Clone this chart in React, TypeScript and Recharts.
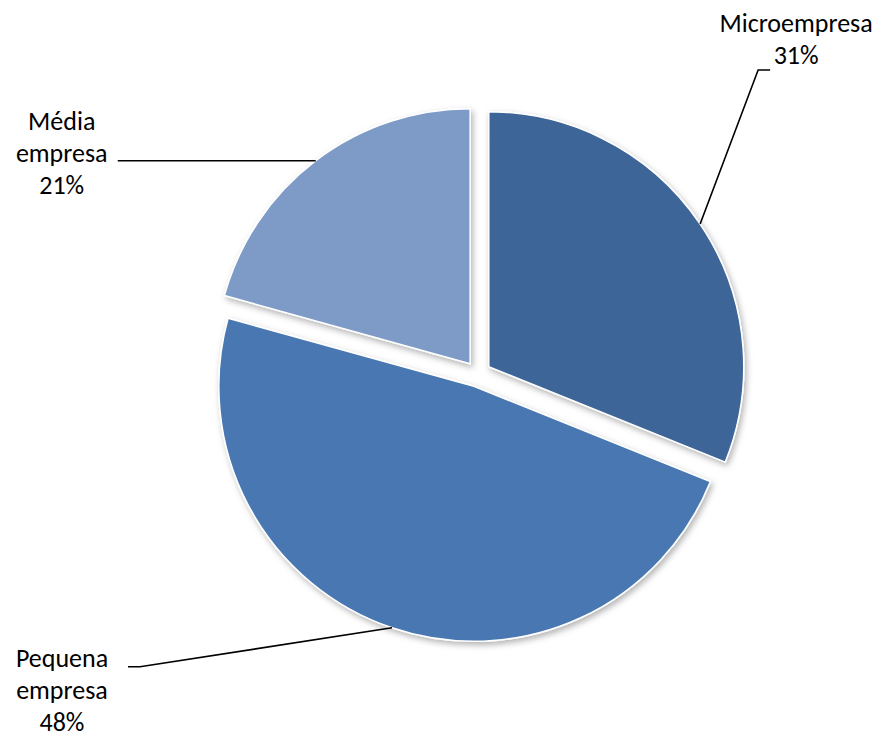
import React from 'react';
import { PieChart, Pie, Cell } from 'recharts';

// ---- data ----
const categories = ['Microempresa', 'Pequena empresa', 'Média empresa'];
const shares = [31.1, 48.2, 20.7];
const colors = ['#3D6598', '#4877B1', '#7D9BC6'];

// ---- layout ----
const W = 881;
const H = 738;
const CX = 478;
const CY = 374;
const R = 255;
const EXPLODE = 13;
const FONT = 'Carlito, Calibri, Lato, sans-serif';
const FONT_SIZE = 26;
const LINE_GAP = 32;
const RAD = Math.PI / 180;

// leader-line bends and text anchor, relative to the arc point at mid angle
const labelLayout: Record<string, { pts: [number, number][]; tx: number; ty: number }> = {
  Microempresa: { pts: [[58, -154], [70, -154]], tx: 96, ty: -192 },
  'Pequena empresa': { pts: [[-252, 39], [-264, 39]], tx: -330, ty: 39 },
  'Média empresa': { pts: [[-198, 0]], tx: -254, ty: -31 },
};

const total = shares.reduce((a, b) => a + b, 0);
const slices = categories.map((name, i) => {
  const before = shares.slice(0, i).reduce((a, b) => a + b, 0);
  const startAngle = 90 - (before / total) * 360;
  const endAngle = 90 - ((before + shares[i]) / total) * 360;
  const mid = (startAngle + endAngle) / 2;
  return {
    name,
    value: shares[i],
    color: colors[i],
    startAngle,
    endAngle,
    cx: CX + EXPLODE * Math.cos(mid * RAD),
    cy: CY - EXPLODE * Math.sin(mid * RAD),
  };
});

const renderLabel = (props: any) => {
  const { cx, cy, midAngle, outerRadius, name, value } = props;
  const ax = cx + outerRadius * Math.cos(-midAngle * RAD);
  const ay = cy + outerRadius * Math.sin(-midAngle * RAD);
  const lay = labelLayout[name];
  const points = [[ax, ay], ...lay.pts.map(([dx, dy]) => [ax + dx, ay + dy])]
    .map((p) => p.join(','))
    .join(' ');
  const lines = [...String(name).split(' '), `${Math.round(value)}%`];
  return (
    <g>
      <polyline points={points} fill="none" stroke="#000" strokeWidth={1.6} />
      <text
        x={ax + lay.tx}
        y={ay + lay.ty}
        textAnchor="middle"
        fontFamily={FONT}
        fontSize={FONT_SIZE}
        fill="#000"
      >
        {lines.map((l, i) => (
          <tspan key={i} x={ax + lay.tx} y={ay + lay.ty + i * LINE_GAP}>
            {l}
          </tspan>
        ))}
      </text>
    </g>
  );
};

export default function App() {
  return (
    <div style={{ position: 'absolute', left: 0, top: 0, width: W, height: H, background: '#fff' }}>
      <PieChart width={W} height={H} margin={{ top: 0, right: 0, bottom: 0, left: 0 }}>
        <defs>
          <filter id="sliceShadow" x="-20%" y="-20%" width="140%" height="140%">
            <feDropShadow dx="2" dy="3" stdDeviation="3" floodColor="#000" floodOpacity="0.3" />
          </filter>
        </defs>
        {slices.map((s) => (
          <Pie
            key={s.name}
            data={[s]}
            dataKey="value"
            nameKey="name"
            cx={s.cx}
            cy={s.cy}
            startAngle={s.startAngle}
            endAngle={s.endAngle}
            innerRadius={0}
            outerRadius={R}
            stroke="#fff"
            strokeWidth={1.5}
            label={renderLabel}
            labelLine={false}
            isAnimationActive={false}
          >
            <Cell fill={s.color} filter="url(#sliceShadow)" />
          </Pie>
        ))}
      </PieChart>
    </div>
  );
}
